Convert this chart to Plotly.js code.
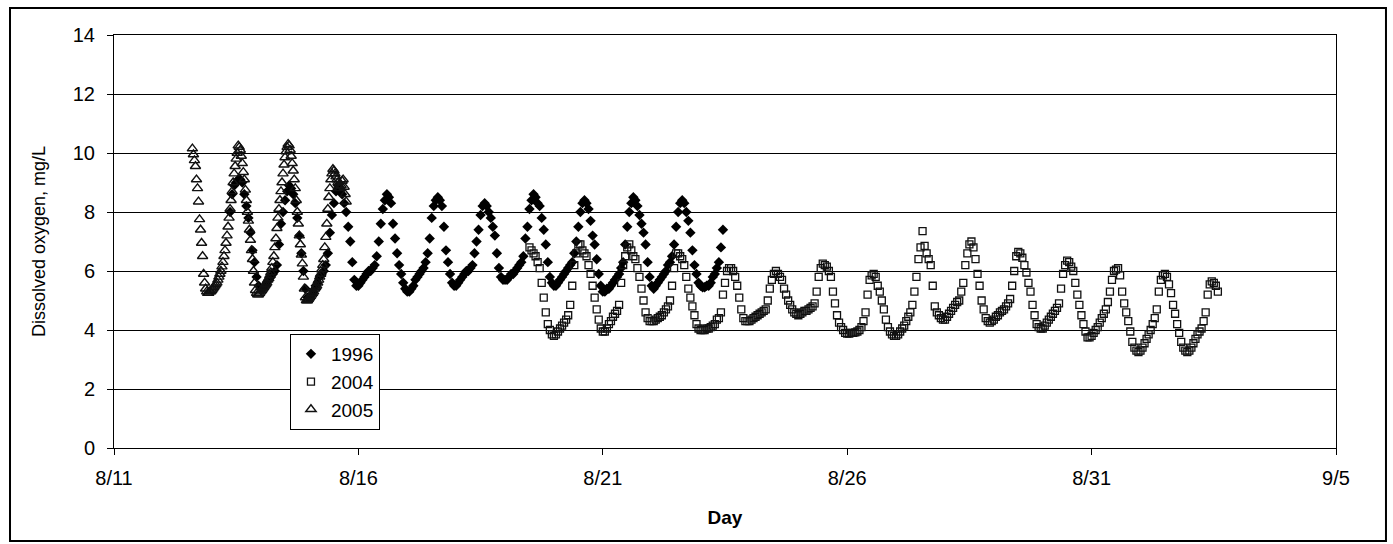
<!DOCTYPE html>
<html>
<head>
<meta charset="utf-8">
<script src="https://cdn.plot.ly/plotly-3.0.1.min.js"></script>
<style>
  html, body { margin: 0; padding: 0; background: #fff; }
  #chart { width: 1393px; height: 544px; }
</style>
</head>
<body>
<div id="chart"></div>
<script>
// ---- Tick positions (day of August; 9/5 = 36) and labels ----
const dayTicks = [11, 16, 21, 26, 31, 36];
const dayLabels = ['8/11', '8/16', '8/21', '8/26', '8/31', '9/5'];
const seriesNames = ['1996', '2004', '2005'];

// ---- 1996: hourly readings starting 8/13 09:00 (day 13.375) ----
const start1996 = 13.375;
const step1996 = 1 / 24;
const do1996 = [
  8.0, 8.6, 8.9, 9.0, 9.1, 9.1, 9.0, 8.6, 8.2, 7.8, 7.3, 6.7, 6.3, 5.8, 5.5, 5.4, 5.4, 5.5, 5.6, 5.7, 5.8, 5.9, 6.0, 6.2,
  6.9, 7.6, 8.0, 8.4, 8.7, 8.9, 8.8, 8.6, 8.3, 7.8, 7.2, 6.6, 6.0, 5.4, 5.1, 5.1, 5.2, 5.3, 5.5, 5.6, 5.8, 5.9, 6.0, 6.2,
  6.6, 7.3, 7.9, 8.3, 8.7, 8.9, 8.8, 8.6, 8.3, 8.0, 7.5, 7.0, 6.3, 5.7, 5.5, 5.5, 5.6, 5.7, 5.8, 5.9, 6.0, 6.0, 6.1, 6.2,
  6.5, 7.0, 7.6, 8.1, 8.4, 8.6, 8.5, 8.3, 7.6, 7.1, 6.6, 6.2, 5.9, 5.6, 5.4, 5.3, 5.3, 5.4, 5.5, 5.7, 5.8, 5.9, 6.0, 6.1,
  6.3, 6.6, 7.1, 7.8, 8.2, 8.4, 8.5, 8.4, 8.2, 7.5, 6.7, 6.3, 5.9, 5.6, 5.5, 5.5, 5.6, 5.7, 5.8, 5.9, 6.0, 6.0, 6.1, 6.2,
  6.6, 7.0, 7.4, 7.9, 8.2, 8.3, 8.2, 8.0, 7.8, 7.5, 7.2, 6.6, 6.1, 5.8, 5.7, 5.7, 5.7, 5.8, 5.9, 5.9, 6.0, 6.1, 6.2, 6.3,
  6.5, 7.1, 7.5, 8.1, 8.4, 8.6, 8.5, 8.3, 8.2, 7.8, 7.4, 6.9, 6.3, 5.8, 5.6, 5.5, 5.5, 5.6, 5.7, 5.8, 5.9, 6.0, 6.1, 6.2,
  6.3, 6.6, 7.0, 7.5, 8.0, 8.3, 8.4, 8.3, 8.1, 7.7, 7.2, 6.9, 6.4, 5.9, 5.5, 5.3, 5.3, 5.4, 5.4, 5.5, 5.6, 5.7, 5.8, 5.9,
  6.1, 6.3, 6.9, 7.5, 8.0, 8.3, 8.5, 8.4, 8.2, 7.9, 7.6, 7.3, 6.9, 6.3, 5.8, 5.5, 5.4, 5.5, 5.6, 5.7, 5.8, 5.9, 6.0, 6.2,
  6.3, 6.5, 6.9, 7.5, 8.0, 8.3, 8.4, 8.3, 8.0, 7.7, 7.3, 6.7, 6.2, 5.9, 5.6, 5.5, 5.45, 5.45, 5.5, 5.5, 5.6, 5.8, 5.9, 6.1,
  6.3, 6.8, 7.4
];

// ---- 2004: hourly readings starting 8/19 12:00 (day 19.5) ----
const start2004 = 19.5;
const step2004 = 1 / 24;
const do2004 = [
  6.8, 6.7, 6.6, 6.5, 6.3, 6.1, 5.6, 5.1, 4.6, 4.2, 4.0, 3.85, 3.8, 3.85, 3.95, 4.05, 4.15, 4.25, 4.35, 4.5, 4.85,
  5.5, 6.2, 6.6, 6.9, 6.9, 6.7, 6.6, 6.5, 6.2, 5.9, 5.5, 5.1, 4.7, 4.35, 4.05, 3.95, 3.95, 4.05, 4.2, 4.3, 4.45, 4.55, 4.65, 4.85,
  5.6, 6.2, 6.5, 6.8, 6.9, 6.7, 6.5, 6.4, 6.1, 5.8, 5.4, 5.0, 4.6, 4.4, 4.3, 4.3, 4.3, 4.35, 4.4, 4.45, 4.5, 4.6, 4.7, 4.8,
  5.0, 5.5, 6.1, 6.6, 6.6, 6.5, 6.4, 6.2, 5.8, 5.4, 5.1, 4.8, 4.5, 4.2, 4.05, 4.0, 4.0, 4.0, 4.05, 4.05, 4.1, 4.15, 4.2, 4.35,
  4.4, 4.6, 5.2, 5.6, 6.0, 6.1, 6.1, 6.0, 5.8, 5.5, 5.1, 4.7, 4.4, 4.3, 4.3, 4.3, 4.35, 4.4, 4.45, 4.5, 4.55, 4.6, 4.65, 4.7,
  5.0, 5.4, 5.7, 5.9, 6.0, 5.9, 5.8, 5.7, 5.4, 5.2, 5.0, 4.85, 4.7, 4.6, 4.55, 4.5, 4.55, 4.6, 4.65, 4.65, 4.7, 4.75, 4.8, 4.9,
  5.3, 5.8, 6.1, 6.25, 6.2, 6.15, 6.0, 5.8, 5.3, 4.9, 4.5, 4.25, 4.1, 4.0, 3.9, 3.88, 3.88, 3.9, 3.9, 3.92, 3.95, 4.0, 4.1, 4.3,
  4.6, 5.2, 5.7, 5.85, 5.9, 5.8, 5.5, 5.3, 5.0, 4.7, 4.35, 4.1, 3.95, 3.85, 3.8, 3.8, 3.85, 3.95, 4.05, 4.15, 4.3, 4.45, 4.6, 4.85,
  5.3, 5.8, 6.4, 6.8, 7.35, 6.85, 6.6, 6.4, 6.2, 5.5, 4.8, 4.6, 4.5, 4.4, 4.35, 4.35, 4.45, 4.55, 4.65, 4.75, 4.85, 4.95, 5.0, 5.3,
  5.6, 6.2, 6.6, 6.9, 7.0, 6.8, 6.4, 5.9, 5.5, 5.0, 4.7, 4.4, 4.3, 4.25, 4.3, 4.35, 4.45, 4.5, 4.6, 4.65, 4.7, 4.8, 4.9, 5.05,
  5.5, 6.0, 6.5, 6.65, 6.6, 6.45, 6.2, 5.95, 5.6, 5.3, 4.85, 4.5, 4.2, 4.1, 4.05, 4.05, 4.15, 4.25, 4.35, 4.45, 4.55, 4.65, 4.75, 4.9,
  5.4, 5.9, 6.2, 6.35, 6.3, 6.15, 6.0, 5.6, 5.2, 4.85, 4.5, 4.2, 3.95, 3.75, 3.75, 3.8, 3.9, 4.0, 4.1, 4.25, 4.4, 4.55, 4.7, 4.95,
  5.3, 5.7, 6.0, 6.05, 6.1, 5.85, 5.3, 4.9, 4.6, 4.3, 3.95, 3.6, 3.4, 3.3, 3.25, 3.3, 3.4, 3.55, 3.7, 3.85, 4.0, 4.2, 4.4, 4.7,
  5.3, 5.7, 5.85, 5.9, 5.8, 5.55, 5.25, 4.85, 4.55, 4.2, 3.9, 3.6, 3.4, 3.3, 3.25, 3.3, 3.4, 3.55, 3.7, 3.85, 3.95, 4.05, 4.3, 4.6,
  5.2, 5.55, 5.65, 5.6, 5.5, 5.3
];

// ---- 2005: half-hourly readings starting 8/12 14:30 (day 12.604) ----
const start2005 = 12.604;
const step2005 = 1 / 48;
const do2005 = [
  10.15, 9.95, 9.75, 9.55, 9.1, 8.8, 8.35, 7.75, 7.4, 6.95, 6.5, 5.9,
  5.6, 5.4, 5.3, 5.25, 5.25, 5.3, 5.3, 5.35, 5.4, 5.45, 5.5, 5.55, 5.6, 5.7, 5.8, 5.9, 6.0, 6.15, 6.3,
  6.5, 6.7, 6.95, 7.2, 7.5, 7.8, 8.1, 8.4, 8.7, 9.0, 9.3, 9.55, 9.8, 10.0, 10.25,
  10.2, 10.1, 9.9, 9.65, 9.35, 9.1, 8.75, 8.4, 8.0, 7.7, 7.4, 7.05, 6.7, 6.4, 6.0, 5.6, 5.35,
  5.25, 5.2, 5.2, 5.25, 5.3, 5.35, 5.4, 5.45, 5.5, 5.55, 5.6, 5.7, 5.75, 5.85, 5.95, 6.1, 6.3,
  6.5, 6.8, 7.1, 7.45, 7.8, 8.1, 8.4, 8.7, 9.0, 9.3, 9.6, 9.85, 10.05, 10.2, 10.3,
  10.25, 10.1, 9.9, 9.65, 9.4, 9.1, 8.8, 8.4, 8.0, 7.6, 7.2, 6.9, 6.55, 6.25, 5.8, 5.4, 5.1,
  5.0, 5.0, 5.05, 5.1, 5.15, 5.2, 5.25, 5.3, 5.4, 5.45, 5.5, 5.6, 5.7, 5.8, 5.9, 6.05, 6.2,
  6.4, 6.8, 7.15, 7.6, 8.1, 8.5, 8.8, 9.1, 9.3, 9.45, 9.4, 9.3, 9.2, 9.1, 9.0, 8.9, 8.8, 8.9, 9.05, 9.1, 8.85, 8.6, 8.35
];

function times(start, step, n) {
  const t = [];
  for (let i = 0; i < n; i++) t.push(start + i * step);
  return t;
}

const font = 'Liberation Sans, Arial, Helvetica, sans-serif';

const traces = [
  {
    name: seriesNames[0], type: 'scatter', mode: 'markers',
    x: times(start1996, step1996, do1996.length), y: do1996,
    marker: { symbol: 'diamond', size: 8, color: '#000', line: { width: 0 } }
  },
  {
    name: seriesNames[1], type: 'scatter', mode: 'markers',
    x: times(start2004, step2004, do2004.length), y: do2004,
    marker: { symbol: 'square-open', size: 7, color: '#111', line: { width: 1.3, color: '#111' } }
  },
  {
    name: seriesNames[2], type: 'scatter', mode: 'markers',
    x: times(start2005, step2005, do2005.length), y: do2005,
    marker: { symbol: 'triangle-up-open', size: 9, color: '#111', line: { width: 1.4, color: '#111' } }
  }
];

const layout = {
  width: 1393, height: 544,
  margin: { l: 114, r: 57, t: 35, b: 96 },
  paper_bgcolor: '#fff', plot_bgcolor: '#fff',
  font: { family: font, color: '#000', size: 20 },
  showlegend: true,
  legend: {
    x: 0.144, y: 0.276, xanchor: 'left', yanchor: 'top',
    bgcolor: '#fff', bordercolor: '#000', borderwidth: 1,
    font: { family: font, size: 19, color: '#000' },
    tracegroupgap: 0, itemwidth: 30
  },
  xaxis: {
    range: [11, 36], tickvals: dayTicks, ticktext: dayLabels,
    showgrid: false, zeroline: false,
    showline: true, linecolor: '#000', linewidth: 1, mirror: true,
    ticks: 'outside', ticklen: 6, tickcolor: '#000', tickwidth: 1,
    ticklabelstandoff: 6,
    tickfont: { family: font, size: 20, color: '#000' },
    title: { text: '<b>Day</b>', font: { family: font, size: 19, color: '#000' }, standoff: 22 }
  },
  yaxis: {
    range: [0, 14], dtick: 2, tick0: 0,
    showgrid: true, gridcolor: '#000', gridwidth: 1, zeroline: false,
    showline: true, linecolor: '#000', linewidth: 1, mirror: true,
    ticks: 'outside', ticklen: 6, tickcolor: '#000', tickwidth: 1,
    ticklabelstandoff: 8,
    tickfont: { family: font, size: 20, color: '#000' },
    title: { text: 'Dissolved oxygen, mg/L', font: { family: font, size: 18, color: '#000' }, standoff: 22 }
  },
  shapes: [
    { type: 'rect', xref: 'paper', yref: 'paper',
      x0: -0.0851, x1: 1.0409, y0: -0.2252, y1: 1.0654,
      line: { color: '#000', width: 2 }, fillcolor: 'rgba(0,0,0,0)' }
  ]
};

Plotly.newPlot('chart', traces, layout, { displayModeBar: false, staticPlot: true });
</script>
</body>
</html>
